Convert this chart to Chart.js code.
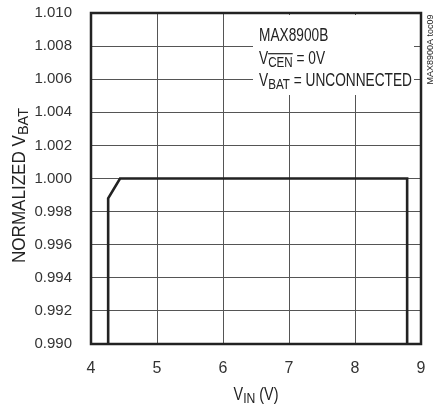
<!DOCTYPE html>
<html>
<head>
<meta charset="utf-8">
<script src="https://cdn.jsdelivr.net/npm/chart.js@4"></script>
<style>
  html, body { margin: 0; padding: 0; background: #fff; }
  #wrap { width: 436px; height: 404px; }
</style>
</head>
<body>
<div id="wrap"><canvas id="vbatChart" width="436" height="404"></canvas></div>
<script>
const vinValues = [4.26, 4.26, 4.44, 8.79, 8.79];
const normVbat = [0.990, 0.9988, 1.000, 1.000, 0.990];
const xTicks = [4, 5, 6, 7, 8, 9];
const yTicks = [0.990, 0.992, 0.994, 0.996, 0.998, 1.000, 1.002, 1.004, 1.006, 1.008, 1.010];

const FONT = "'Liberation Sans', Arial, sans-serif";

function runsWidth(ctx, runs, size) {
    let w = 0;
    runs.forEach(r => {
        ctx.font = (r.sub ? size * 0.85 : size) + "px " + FONT;
        w += ctx.measureText(r.t).width;
    });
    return w;
}

// draws text runs (subscript / overline) squeezed horizontally
function drawRuns(ctx, runs, x, y, size, sx) {
    ctx.save();
    ctx.translate(x, y);
    ctx.scale(sx, 1);
    let cx = 0;
    runs.forEach(r => {
        const s = r.sub ? size * 0.85 : size;
        ctx.font = s + "px " + FONT;
        const w = ctx.measureText(r.t).width;
        const yy = r.sub ? size * 0.16 : 0;
        ctx.fillText(r.t, cx, yy);
        if (r.over) ctx.fillRect(cx, yy - s * 0.72 - 3, w, 1.2);
        cx += w;
    });
    ctx.restore();
}

const decoPlugin = {
    id: "deco",
    afterDatasetsDraw(chart) {
        const ctx = chart.ctx;
        const a = chart.chartArea;
        ctx.save();
        // annotation box
        ctx.fillStyle = "#fff";
        ctx.fillRect(253, 15, 161, 80);

        // frame
        ctx.strokeStyle = "#222";
        ctx.lineWidth = 2.5;
        ctx.strokeRect(a.left, a.top, a.right - a.left, a.bottom - a.top);

        ctx.fillStyle = "#222";
        ctx.textBaseline = "alphabetic";
        ctx.textAlign = "left";
        const l1 = [{t: "MAX8900B"}];
        const l2 = [{t: "V"}, {t: "CEN", sub: true, over: true}, {t: " = 0V"}];
        const l3 = [{t: "V"}, {t: "BAT", sub: true}, {t: " = UNCONNECTED"}];
        const sA = 153 / runsWidth(ctx, l3, 17.5);
        drawRuns(ctx, l1, 259, 41, 17.5, sA);
        drawRuns(ctx, l2, 259, 64, 17.5, sA);
        drawRuns(ctx, l3, 259, 86, 17.5, sA);

        // x title
        const xr = [{t: "V"}, {t: "IN", sub: true}, {t: " (V)"}];
        const xw = runsWidth(ctx, xr, 17.5) * 0.82;
        drawRuns(ctx, xr, (a.left + a.right) / 2 - xw / 2, 400, 17.5, 0.82);

        // y title
        const yr = [{t: "NORMALIZED V"}, {t: "BAT", sub: true}];
        const yw0 = runsWidth(ctx, yr, 17.5);
        const sY = Math.min(1, 155 / yw0);
        ctx.save();
        ctx.translate(25, 185.5);
        ctx.rotate(-Math.PI / 2);
        drawRuns(ctx, yr, -yw0 * sY / 2, 0, 17.5, sY);
        ctx.restore();

        // side label
        ctx.save();
        ctx.translate(433, 49.5);
        ctx.rotate(-Math.PI / 2);
        ctx.textAlign = "center";
        ctx.font = "9px " + FONT;
        ctx.fillText("MAX8900A toc09", 0, 0);
        ctx.restore();
        ctx.restore();
    }
};

const ctxVbat = document.getElementById("vbatChart").getContext("2d");
new Chart(ctxVbat, {
    type: "scatter",
    data: {
        datasets: [{
            data: vinValues.map((v, i) => ({x: v, y: normVbat[i]})),
            showLine: true,
            borderColor: "#222",
            borderWidth: 2.6,
            pointRadius: 0,
            fill: false
        }]
    },
    options: {
        responsive: false,
        animation: false,
        layout: {padding: {left: 0, top: 13, right: 15, bottom: 0}},
        plugins: {legend: {display: false}, tooltip: {enabled: false}},
        scales: {
            x: {
                type: "linear",
                min: 4, max: 9,
                afterBuildTicks: s => { s.ticks = xTicks.map(v => ({value: v})); },
                afterFit: s => { s.height = 60; s.paddingLeft = 0; s.paddingRight = 0; },
                grid: {color: "#555", lineWidth: 1, drawTicks: false},
                border: {display: false},
                ticks: {
                    color: "#333", font: {family: FONT, size: 16}, padding: 15,
                    maxRotation: 0, autoSkip: false
                }
            },
            y: {
                min: 0.990, max: 1.010,
                afterBuildTicks: s => { s.ticks = yTicks.map(v => ({value: v})); },
                afterFit: s => { s.width = 91; s.paddingTop = 0; s.paddingBottom = 0; },
                grid: {color: "#555", lineWidth: 1, drawTicks: false},
                border: {display: false},
                ticks: {
                    color: "#333", font: {family: FONT, size: 15}, padding: 19,
                    autoSkip: false,
                    callback: v => v.toFixed(3)
                }
            }
        }
    },
    plugins: [decoPlugin]
});
</script>
</body>
</html>
